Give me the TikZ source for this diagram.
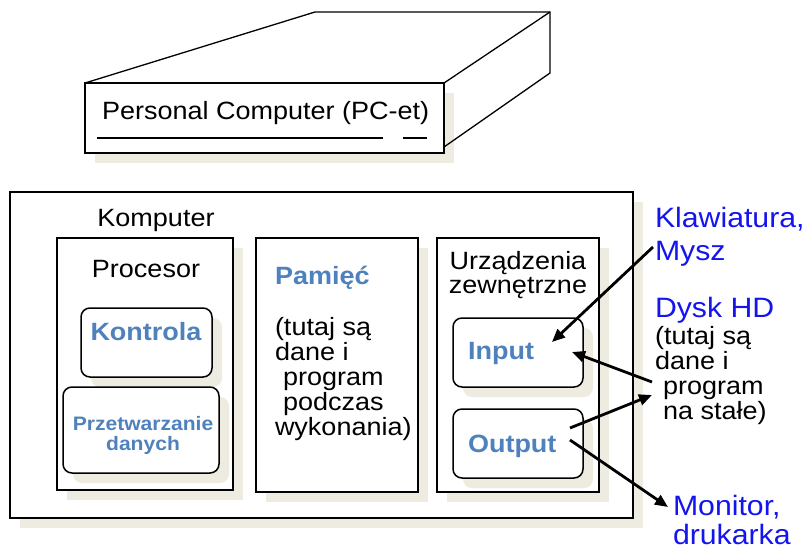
\documentclass[tikz,border=0pt]{standalone}
\usepackage{fontspec}
\setmainfont{Liberation Sans}[FakeStretch=1.08]
\usetikzlibrary{shadows,arrows.meta}
\definecolor{shadowc}{HTML}{EEECE1}
\definecolor{steel}{HTML}{4F81BD}
\definecolor{brblue}{HTML}{1414EE}
\begin{document}
\begin{tikzpicture}[x=1pt,y=-1pt,
  box/.style={draw, line width=1.5pt, fill=white, inner sep=0pt, outer sep=0pt, anchor=north west,
    drop shadow={shadow xshift=10pt, shadow yshift=-10pt, fill=shadowc, opacity=1}},
  rbox/.style={box, rounded corners=9pt},
  txt/.style={font=\fontsize{25}{25}\selectfont, inner sep=0pt, outer sep=0pt},
  btxt/.style={font=\fontsize{25}{25}\selectfont\bfseries, text=steel, inner sep=0pt, outer sep=0pt},
  lbl/.style={font=\fontsize{28}{28}\selectfont, text=brblue, inner sep=0pt, outer sep=0pt, anchor=base west},
  arr/.style={line width=2.8pt, -{Triangle[length=13pt,width=11pt]}},
  edge3d/.style={line width=1.3pt}]
\useasboundingbox (0,0) rectangle (808,551);

% PC
\node[box, minimum width=359pt, minimum height=70pt] (pc) at (85,83) {};
\coordinate (pcbtl) at (315,12);
\coordinate (pcbtr) at (550,12);
\coordinate (pcbbr) at (550,73);
\coordinate (pcfr) at (444,147);
\draw[edge3d] (pc.north west) -- (pcbtl) -- (pcbtr) -- (pcbbr) -- (pcfr);
\draw[edge3d] (pc.north east) -- (pcbtr);
\coordinate (u1a) at (97,138); \coordinate (u1b) at (383,138);
\coordinate (u2a) at (403,138); \coordinate (u2b) at (427,138);
\draw[line width=1.2pt] (u1a) -- (u1b);
\draw[line width=1.2pt] (u2a) -- (u2b);
\node[txt, anchor=base west] (pct) at (102,119) {Personal Computer (PC-et)};

% Komputer
\node[box, minimum width=623pt, minimum height=326pt] (outer) at (10,192) {};
\node[txt, anchor=base] (kompt) at (156,226) {Komputer};

% Procesor
\node[box, minimum width=176pt, minimum height=252pt] (proc) at (57,238) {};
\node[txt, anchor=base] (proct) at (146,277) {Procesor};
\node[rbox, minimum width=131pt, minimum height=69pt] (kontr) at (81,308) {};
\node[btxt, anchor=base] (kontrt) at (146,340) {Kontrola};
\node[rbox, minimum width=156pt, minimum height=86pt] (przetw) at (63,387) {};
\node[btxt, anchor=base, font=\fontsize{19.5}{19.5}\selectfont\bfseries] (przt1) at (143,430) {Przetwarzanie};
\node[btxt, anchor=base, font=\fontsize{19.5}{19.5}\selectfont\bfseries] (przt2) at (143,450) {danych};

% Pamiec
\node[box, minimum width=162pt, minimum height=254pt] (pam) at (256,238) {};
\node[btxt, anchor=base west] (pamt) at (275,284) {Pamięć};
\node[txt, anchor=base west] (pm1) at (275,335) {(tutaj są};
\node[txt, anchor=base west] (pm2) at (275,360) {dane i};
\node[txt, anchor=base west] (pm3) at (283,385) {program};
\node[txt, anchor=base west] (pm4) at (283,410) {podczas};
\node[txt, anchor=base west] (pm5) at (275,435) {wykonania)};

% Urzadzenia
\node[box, minimum width=162pt, minimum height=254pt] (urz) at (437,238) {};
\node[txt, anchor=base] (urt1) at (518,269) {Urządzenia};
\node[txt, anchor=base] (urt2) at (518,293) {zewnętrzne};
\node[rbox, minimum width=130pt, minimum height=69pt] (inp) at (453,318) {};
\node[btxt, anchor=base west] (inpt) at (468,359) {Input};
\node[rbox, minimum width=130pt, minimum height=69pt] (outp) at (453,409) {};
\node[btxt, anchor=base west] (outpt) at (468,452) {Output};

% right labels
\node[lbl] (kl1) at (655,227) {Klawiatura,};
\node[lbl] (kl2) at (655,260) {Mysz};
\node[lbl] (dy) at (655,317) {Dysk HD};
\node[txt, anchor=base west] (dy1) at (655,344) {(tutaj są};
\node[txt, anchor=base west] (dy2) at (655,369) {dane i};
\node[txt, anchor=base west] (dy3) at (663,394) {program};
\node[txt, anchor=base west] (dy4) at (663,419) {na stałe)};
\node[lbl] (mo1) at (673,515) {Monitor,};
\node[lbl] (mo2) at (673,544) {drukarka};

% arrows
\coordinate (a1s) at (653,247); \coordinate (a1e) at (552,342);
\coordinate (a2s) at (652,382); \coordinate (a2e) at (572,352);
\coordinate (a3s) at (570,428); \coordinate (a3e) at (652,395);
\coordinate (a4s) at (570,440); \coordinate (a4e) at (668,507);
\draw[arr] (a1s) -- (a1e);
\draw[arr] (a2s) -- (a2e);
\draw[arr] (a3s) -- (a3e);
\draw[arr] (a4s) -- (a4e);
\end{tikzpicture}
\end{document}
